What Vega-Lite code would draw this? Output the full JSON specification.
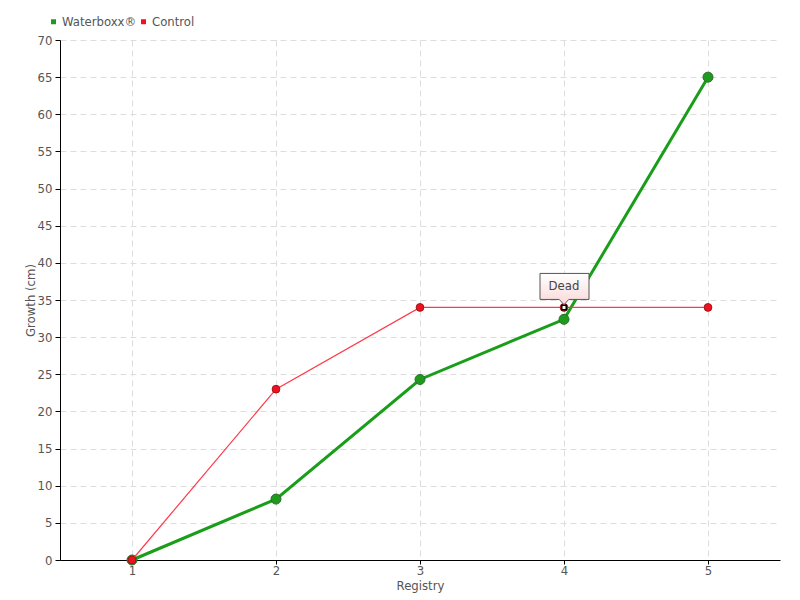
{
  "$schema": "https://vega.github.io/schema/vega-lite/v6.json",
  "width": 720,
  "height": 520,
  "autosize": {"type": "none"},
  "padding": {"left": 60, "top": 40, "right": 20, "bottom": 40},
  "background": "white",
  "config": {
    "view": {"stroke": null},
    "font": "DejaVu Sans Condensed",
    "axis": {
      "labelFont": "DejaVu Sans Condensed",
      "titleFont": "DejaVu Sans Condensed",
      "labelColor": "#555",
      "titleColor": "#555",
      "labelFontSize": 13,
      "titleFontSize": 13,
      "titleFontWeight": "normal",
      "domainColor": "#000",
      "tickColor": "#000",
      "tickSize": 5,
      "gridColor": "#dddddd",
      "gridDash": [6, 4],
      "gridWidth": 1
    },
    "legend": {
      "labelFont": "DejaVu Sans Condensed",
      "labelFontSize": 13,
      "labelColor": "#555",
      "symbolType": "square",
      "symbolSize": 25,
      "symbolStrokeWidth": 0
    }
  },
  "datasets": {
    "growth": [
      {"reg": 1, "growth": 0, "series": "Waterboxx®"},
      {"reg": 2, "growth": 8.2, "series": "Waterboxx®"},
      {"reg": 3, "growth": 24.3, "series": "Waterboxx®"},
      {"reg": 4, "growth": 32.4, "series": "Waterboxx®"},
      {"reg": 5, "growth": 65, "series": "Waterboxx®"},
      {"reg": 1, "growth": 0, "series": "Control"},
      {"reg": 2, "growth": 23, "series": "Control"},
      {"reg": 3, "growth": 34, "series": "Control"},
      {"reg": 4, "growth": 34, "series": "Control"},
      {"reg": 5, "growth": 34, "series": "Control"}
    ],
    "notes": [
      {"reg": 4, "growth": 34, "note": "Dead"}
    ]
  },
  "encoding": {
    "x": {
      "field": "reg", "type": "quantitative",
      "scale": {"domain": [0.5, 5.5], "nice": false, "zero": false},
      "axis": {"values": [1, 2, 3, 4, 5], "title": "Registry", "tickSize": 4, "titlePadding": 2, "labelPadding": 0, "format": "d"}
    },
    "y": {
      "field": "growth", "type": "quantitative",
      "scale": {"domain": [0, 70], "nice": false},
      "axis": {"values": [0,5,10,15,20,25,30,35,40,45,50,55,60,65,70], "title": "Growth (cm)", "titlePadding": 0, "labelPadding": 3}
    }
  },
  "layer": [
    {
      "data": {"name": "growth"},
      "transform": [{"filter": "datum.series === 'Waterboxx®'"}],
      "mark": {"type": "line", "color": "#1a9e1a", "strokeWidth": 3},
      "encoding": {}
    },
    {
      "data": {"name": "growth"},
      "transform": [{"filter": "datum.series === 'Waterboxx®'"}],
      "mark": {"type": "point", "filled": true, "size": 100, "opacity": 1, "stroke": "#2a6e2a", "strokeWidth": 1},
      "encoding": {
        "color": {
          "field": "series", "type": "nominal",
          "scale": {"domain": ["Waterboxx®", "Control"], "range": ["#1f9a1f", "#ee1122"]},
          "legend": {"orient": "none", "legendX": -13, "legendY": -25, "direction": "horizontal", "title": null, "columnPadding": 0, "labelOffset": 2}
        }
      }
    },
    {
      "data": {"name": "growth"},
      "transform": [{"filter": "datum.series === 'Control'"}],
      "mark": {"type": "line", "color": "#ff3a4a", "strokeWidth": 1.2},
      "encoding": {}
    },
    {
      "data": {"name": "growth"},
      "transform": [{"filter": "datum.series === 'Control'"}],
      "mark": {"type": "point", "filled": true, "size": 60, "opacity": 1, "stroke": "#aa1111", "strokeWidth": 1},
      "encoding": {
        "color": {"field": "series", "type": "nominal"}
      }
    },
    {
      "data": {"name": "notes"},
      "mark": {"type": "point", "shape": "square", "filled": true, "size": 20, "fill": "white", "stroke": "#000", "strokeWidth": 1.5, "opacity": 1},
      "encoding": {}
    },
    {
      "data": {"name": "notes"},
      "mark": {
        "type": "point",
        "shape": "M-0.6,-0.85 L0.625,-0.85 L0.625,-0.2 L0.12,-0.2 L0,-0.07 L-0.12,-0.2 L-0.6,-0.2 Z",
        "size": 6400,
        "filled": true,
        "opacity": 1,
        "fill": {"gradient": "linear", "x1": 0, "y1": 0, "x2": 0, "y2": 1, "stops": [{"offset": 0, "color": "#ffffff"}, {"offset": 1, "color": "#fbd8d8"}]},
        "stroke": "#555",
        "strokeWidth": 1
      },
      "encoding": {}
    },
    {
      "data": {"name": "notes"},
      "mark": {"type": "text", "dy": -21, "fontSize": 13, "color": "#444", "font": "DejaVu Sans Condensed"},
      "encoding": {"text": {"field": "note"}}
    }
  ]
}
